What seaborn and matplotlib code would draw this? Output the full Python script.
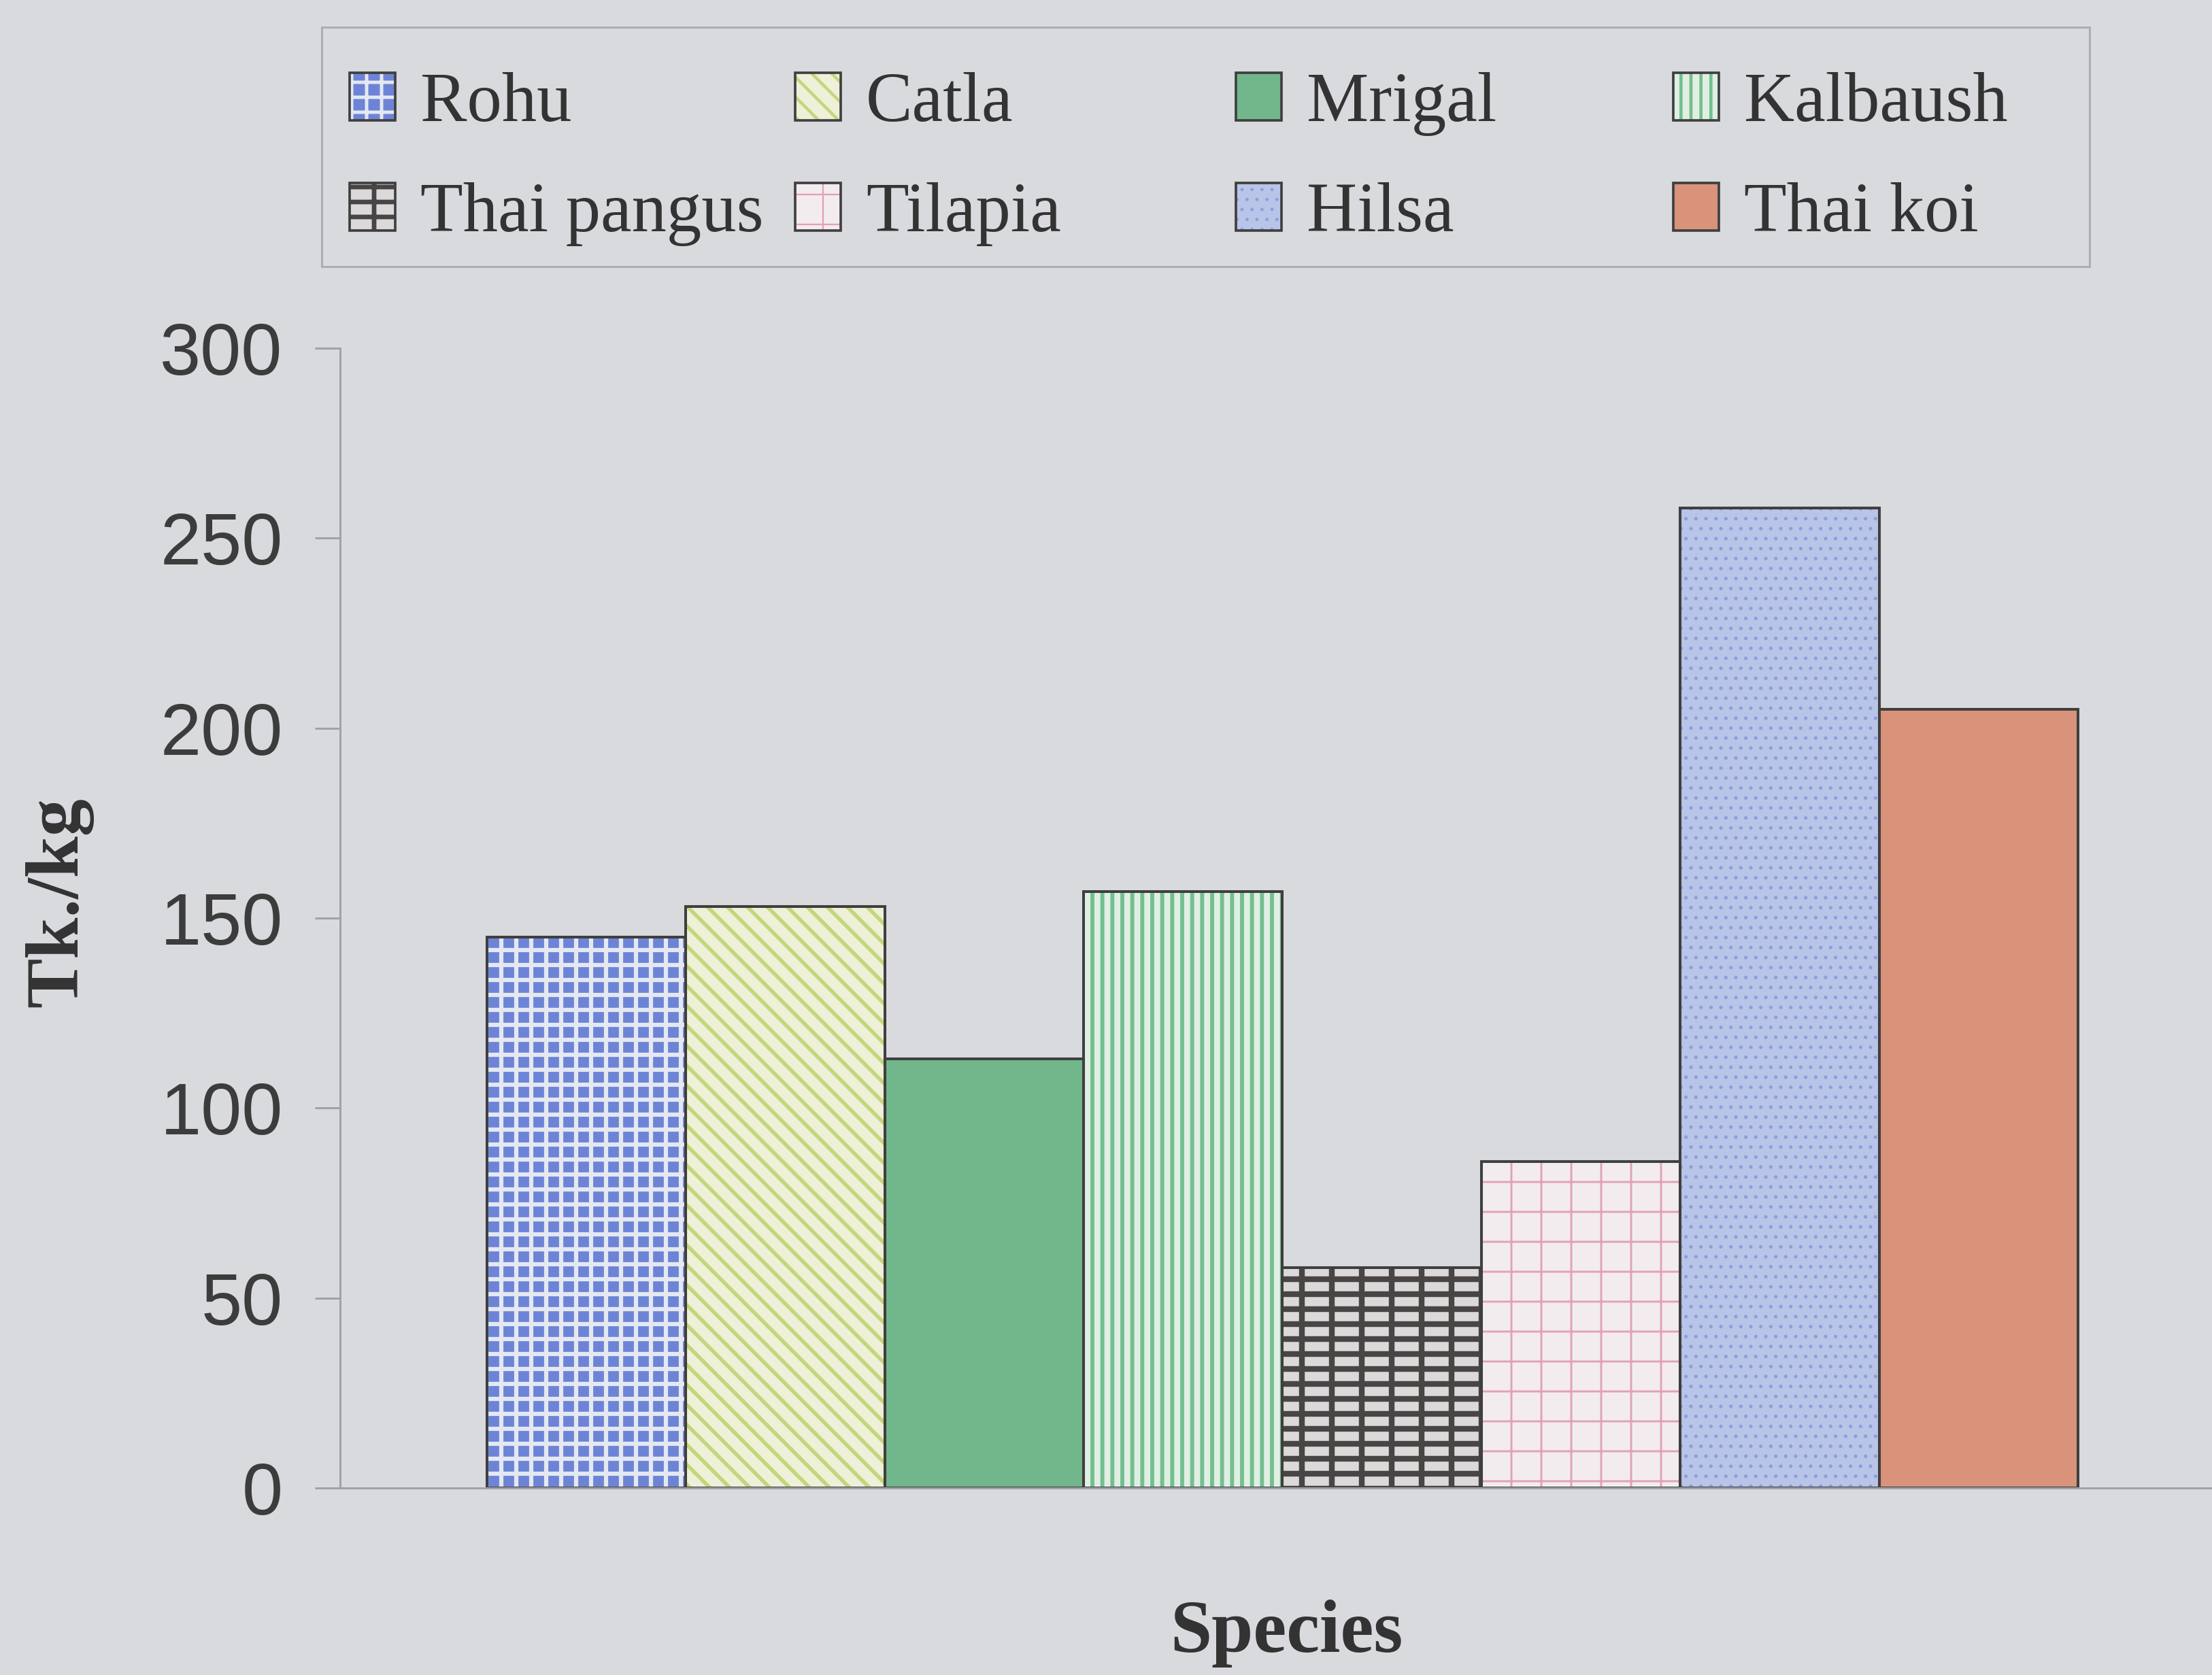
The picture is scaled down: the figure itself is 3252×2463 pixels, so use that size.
import matplotlib
matplotlib.use("Agg")
import matplotlib.pyplot as plt
import matplotlib.patches as mpatches
from matplotlib.legend_handler import HandlerTuple
from matplotlib.font_manager import FontProperties
import pandas as pd
import seaborn as sns

# ---- data -------------------------------------------------------------
species = ["Rohu", "Catla", "Mrigal", "Kalbaush",
           "Thai pangus", "Tilapia", "Hilsa", "Thai koi"]
price_tk_per_kg = [145, 153, 113, 157, 58, 86, 258, 205]
y_ticks = [0, 50, 100, 150, 200, 250, 300]

# ---- styling ----------------------------------------------------------
fill_colors = ["#6d84d6", "#eef0d8", "#72b78b", "#e0efe3",
               "#dcd9da", "#f3ecef", "#b8c4e8", "#d9937a"]
hatch_colors = ["#e4e8f2", "#c3d67c", "#72b78b", "#74bf8f",
                "#4a4545", "#e2a2b6", "#8d9edb", "#d9937a"]
hatches = ["++", "\\\\\\", "", "|||", "--|", "+", "...", ""]
hatch_widths = [1.7, 1.5, 0.5, 1.6, 2.3, 0.8, 0.6, 0.5]

BG = "#d8dade"
OUTLINE = "#3f3f3f"
AXIS_GRAY = "#9ea2a8"
TEXT = "#333333"

DPI = 264
W, H = 3252, 2463
Y0, Y300 = 2188, 512          # pixel rows of the 0 and 300 levels

sns.set_style("ticks")
plt.rcParams["hatch.linewidth"] = 1.5
plt.rcParams["font.family"] = ["Liberation Sans", "DejaVu Sans"]

fig = plt.figure(figsize=(W / DPI, H / DPI), dpi=DPI, facecolor=BG)
ax = fig.add_axes([500 / W, 1 - Y0 / H, 2752 / W, (Y0 - Y300) / H])
ax.set_facecolor(BG)

df = pd.DataFrame({"group": [""] * len(species),
                   "species": species,
                   "price": price_tk_per_kg})

sns.barplot(data=df, x="group", y="price", hue="species", hue_order=species,
            palette=dict(zip(species, fill_colors)), width=0.85, dodge=True,
            saturation=1, errorbar=None, legend=False, ax=ax)

# patterned fills, with a separate dark outline on each bar
bars = sorted(ax.patches, key=lambda p: p.get_x())
for p, fc, hc, h, hw in zip(bars, fill_colors, hatch_colors, hatches, hatch_widths):
    p.set_facecolor(fc)
    p.set_edgecolor(hc)
    p.set_linewidth(0)
    p.set_hatch(h)
    if h and hasattr(p, "set_hatch_linewidth"):
        p.set_hatch_linewidth(hw)
    ax.add_patch(mpatches.Rectangle(p.get_xy(), p.get_width(), p.get_height(),
                                    fill=False, edgecolor=OUTLINE, lw=1.1,
                                    zorder=p.get_zorder() + 0.1))

# ---- axes -------------------------------------------------------------
ax.set_xlim(-0.50345, 0.49655)
ax.set_ylim(0, 300)
ax.set_yticks(y_ticks)
ax.set_xticks([])
for side in ("top", "right"):
    ax.spines[side].set_visible(False)
for side in ("left", "bottom"):
    ax.spines[side].set_color(AXIS_GRAY)
    ax.spines[side].set_linewidth(0.8)
ax.tick_params(axis="y", direction="out", length=10, width=0.8,
               color=AXIS_GRAY, pad=13, labelsize=29.5, labelcolor="#3c3c3c")

ax.set_ylabel("Tk./kg", fontfamily="Liberation Serif", fontweight="bold",
              fontsize=30, color=TEXT)
ax.yaxis.set_label_coords((87 - 500) / 2752, (Y0 - 1327) / (Y0 - Y300))
ax.yaxis.label.set_va("center")
ax.yaxis.label.set_ha("center")

ax.set_xlabel("Species", fontfamily="Liberation Serif", fontweight="bold",
              fontsize=30, color=TEXT)
ax.xaxis.set_label_coords((1891 - 500) / 2752, -(2402 - Y0) / (Y0 - Y300))
ax.xaxis.label.set_va("center")

# ---- legend: four equal-width columns inside one frame ----------------
columns = [("Rohu", "Thai pangus"), ("Catla", "Tilapia"),
           ("Mrigal", "Hilsa"), ("Kalbaush", "Thai koi")]
column_x = [514, 1169, 1817, 2460]
hatch_lw = dict(zip(hatches, hatch_widths))
legend_font = FontProperties(family="Liberation Serif", size=28)

for names, cx in zip(columns, column_x):
    handles = []
    for n in names:
        i = species.index(n)
        fill = mpatches.Patch(facecolor=fill_colors[i], edgecolor=hatch_colors[i],
                              hatch=hatches[i], lw=0)
        edge = mpatches.Patch(facecolor="none", edgecolor=OUTLINE, lw=1.0)
        handles.append((fill, edge))
    leg = fig.legend(handles, list(names), handler_map={tuple: HandlerTuple()},
                     loc="center left", bbox_to_anchor=(cx / W, 1 - 234 / H),
                     frameon=False, prop=legend_font, handlelength=0.65,
                     handleheight=0.67, handletextpad=0.36, labelspacing=0.66,
                     borderpad=0, borderaxespad=0)
    for t in leg.get_texts():
        t.set_color(TEXT)
    for r in leg.findobj(mpatches.Rectangle):
        hs = r.get_hatch()
        if hs and hasattr(r, "set_hatch_linewidth"):
            r.set_hatch_linewidth(hatch_lw.get(hs, 1.0) * 0.8)

fig.add_artist(mpatches.Rectangle((473 / W, 1 - 392 / H), (3072 - 473) / W,
                                  (392 - 40) / H, transform=fig.transFigure,
                                  fill=False, edgecolor="#aaacb1", lw=0.8))

fig.savefig("out.png", dpi=DPI, facecolor=BG)
